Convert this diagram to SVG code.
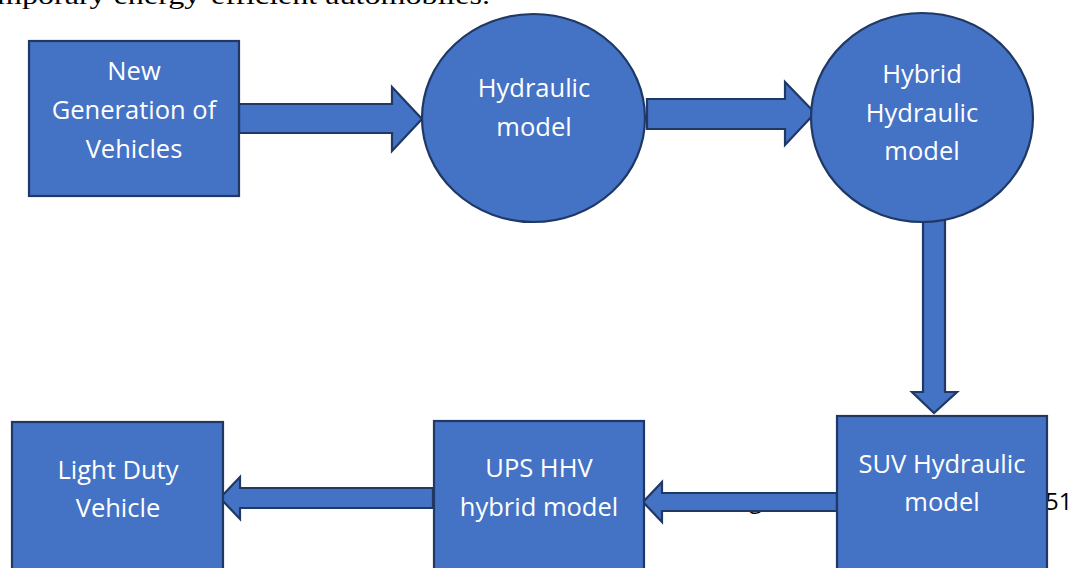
<svg xmlns="http://www.w3.org/2000/svg" width="1070" height="568" viewBox="0 0 1070 568">
<style>
.bg{fill:#000;font-family:"Liberation Serif",serif;font-size:26px}
.pg{fill:#000;font-family:"Open Sans","Liberation Sans",sans-serif;font-size:24px}
.shape{fill:#4472C4;stroke:#1F3864;stroke-width:2.2}
.arrow{fill:#4472C4;stroke:#1F3864;stroke-width:2.2;stroke-linejoin:miter}
.lbl{fill:#fff;font-family:"Open Sans","Liberation Sans",sans-serif;font-size:25.5px;text-anchor:middle}
</style>
<rect width="1070" height="568" fill="#fff"/>
<text class="bg" x="-3" y="4" textLength="493" lengthAdjust="spacingAndGlyphs">mporary energy-efficient automobiles.</text>
<text class="pg" x="749" y="508">g</text>
<text class="pg" x="1045" y="510">51</text>
<g id="connectors">
<path class="arrow" d="M239,104 H392 V87 L422,119 L392,151 V133 H239 Z"/>
<path class="arrow" d="M647,99 H785 V82 L815,113 L785,145 V129 H647 Z"/>
<path class="arrow" d="M923,215 V392 H912 L934,413 L957,392 H945 V215 Z"/>
<path class="arrow" d="M837,493 H662 V482 L643,502 L662,522 V511 H837 Z"/>
<path class="arrow" d="M433,488 H240 V477 L220,498 L240,519 V508 H433 Z"/>
</g>
<g id="node-new-generation">
<rect class="shape" x="29" y="41" width="210" height="155"/>
<text class="lbl" x="134" y="80">New</text>
<text class="lbl" x="134" y="119">Generation of</text>
<text class="lbl" x="134" y="158">Vehicles</text>
</g>
<g id="node-hydraulic">
<ellipse class="shape" cx="533.5" cy="118" rx="111.5" ry="104"/>
<text class="lbl" x="534" y="97">Hydraulic</text>
<text class="lbl" x="534" y="136">model</text>
</g>
<g id="node-hybrid-hydraulic">
<ellipse class="shape" cx="922" cy="117.5" rx="111" ry="104.5"/>
<text class="lbl" x="922" y="83">Hybrid</text>
<text class="lbl" x="922" y="122">Hydraulic</text>
<text class="lbl" x="922" y="160">model</text>
</g>
<g id="node-suv">
<rect class="shape" x="837" y="416" width="210" height="160"/>
<text class="lbl" x="942" y="473">SUV Hydraulic</text>
<text class="lbl" x="942" y="511">model</text>
</g>
<g id="node-ups">
<rect class="shape" x="434" y="421" width="210" height="160"/>
<text class="lbl" x="539" y="477">UPS HHV</text>
<text class="lbl" x="539" y="516">hybrid model</text>
</g>
<g id="node-light-duty">
<rect class="shape" x="12" y="422" width="211" height="160"/>
<text class="lbl" x="118" y="479">Light Duty</text>
<text class="lbl" x="118" y="517">Vehicle</text>
</g>
</svg>
